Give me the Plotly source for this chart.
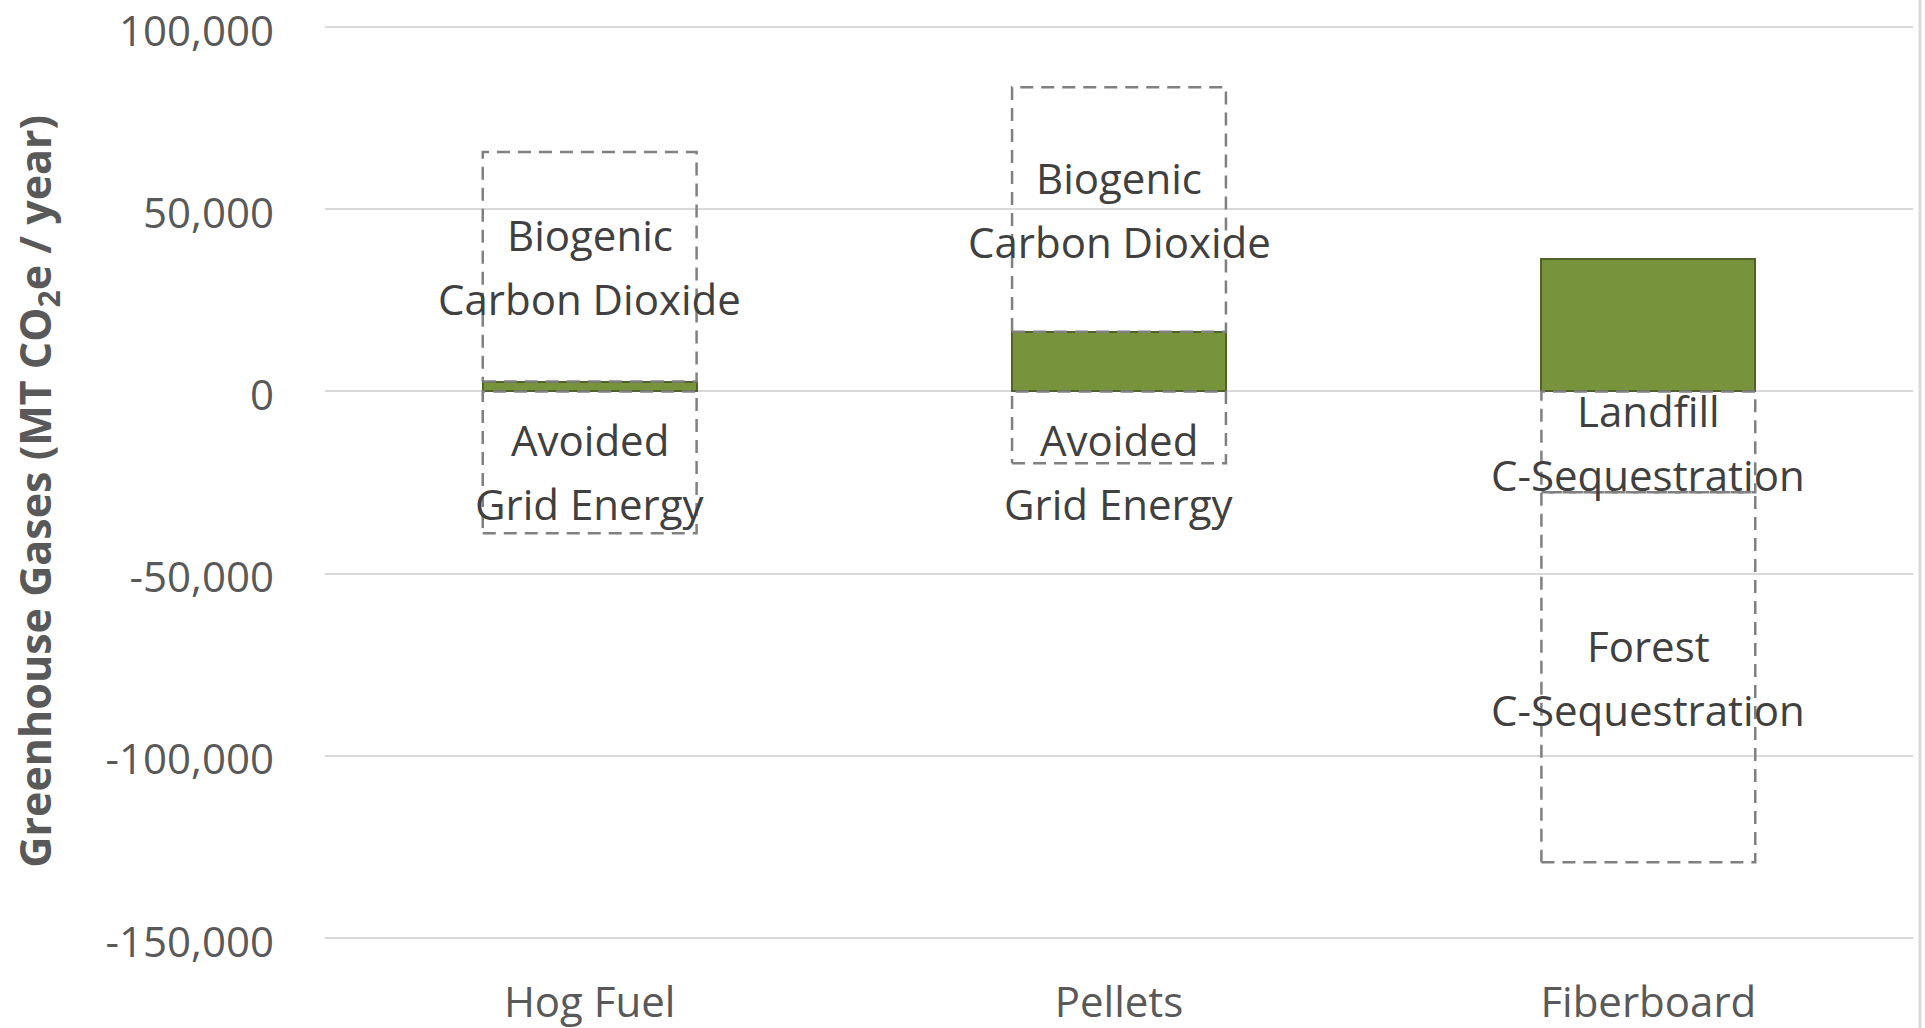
import plotly.graph_objects as go

# ---------------- data ----------------
categories = ["Hog Fuel", "Pellets", "Fiberboard"]
net_emissions = [2700, 16400, 36300]          # green bars (MT CO2e / year)

# dashed component boxes
box_category = [0, 0, 1, 1, 2, 2]
box_bottom = [2700, -38900, 16400, -19700, -27700, -129200]
box_top = [65700, 0, 83500, 0, 0, -27700]
box_labels = [
    ["Biogenic", "Carbon Dioxide"],
    ["Avoided", "Grid Energy"],
    ["Biogenic", "Carbon Dioxide"],
    ["Avoided", "Grid Energy"],
    ["Landfill", "C-Sequestration"],
    ["Forest", "C-Sequestration"],
]
label_y = [34200, -21900, 50000, -21900, -14000, -78500]

y_ticks = [100000, 50000, 0, -50000, -100000, -150000]
y_ticktext = ["100,000", "50,000", "0", "-50,000", "-100,000", "-150,000"]

# ---------------- style ----------------
W, H = 1925, 1028
ML, MR, MT, MB = 325, 12, 26, 89
BAR_W = 0.404
GREEN = "#77933C"
GREEN_EDGE = "#4F6228"
DASH_COLOR = "#808080"
TEXT = "#404040"
TICK = "#595959"
FONT = "Open Sans"

fig = go.Figure()
x_pos = list(range(len(categories)))

fig.add_trace(go.Bar(
    x=x_pos, y=net_emissions, width=BAR_W,
    marker=dict(color=GREEN, line=dict(color=GREEN_EDGE, width=2)),
    showlegend=False, hoverinfo="skip",
))

for c, lo, hi in zip(box_category, box_bottom, box_top):
    x0, x1 = c - BAR_W / 2, c + BAR_W / 2
    fig.add_trace(go.Scatter(
        x=[x0, x1, x1, x0, x0], y=[lo, lo, hi, hi, lo],
        mode="lines",
        line=dict(color=DASH_COLOR, width=2.5, dash="13px,8px"),
        showlegend=False, hoverinfo="skip",
    ))

LINE_H = 64
for c, lines, ly in zip(box_category, box_labels, label_y):
    n = len(lines)
    for k, t in enumerate(lines):
        fig.add_annotation(
            x=c, y=ly, xref="x", yref="y", text=t, showarrow=False,
            yshift=((n - 1) / 2 - k) * LINE_H,
            font=dict(family=FONT, size=42, color=TEXT),
        )

plot_w = W - ML - MR
plot_h = H - MT - MB
fig.add_annotation(
    xref="paper", yref="paper", x=(37 - ML) / plot_w, y=0.49,
    text="Greenhouse Gases (MT CO<sub>2</sub>e / year)",
    textangle=-90, showarrow=False, xanchor="center", yanchor="middle",
    font=dict(family=FONT, size=43, color=TICK, weight="bold"),
)

# chart frame edge on the right
fig.add_shape(
    type="line", xref="paper", yref="paper",
    x0=(1920 - ML) / plot_w, x1=(1920 - ML) / plot_w,
    y0=-MB / plot_h, y1=1 + MT / plot_h,
    line=dict(color="#D9D9D9", width=3),
)

fig.update_layout(
    width=W, height=H,
    margin=dict(l=ML, r=MR, t=MT, b=MB, autoexpand=False),
    plot_bgcolor="white", paper_bgcolor="white",
    font=dict(family=FONT, color=TICK),
    bargap=0,
)
fig.update_xaxes(
    automargin=False,
    range=[-0.5, len(categories) - 0.5],
    tickvals=x_pos, ticktext=categories,
    tickfont=dict(family=FONT, size=42, color=TICK),
    showgrid=False, zeroline=False, showline=False, ticks="",
    ticklabelstandoff=35, ticklabeloverflow="allow",
)
fig.update_yaxes(
    automargin=False,
    range=[-150300, 100300],
    tickvals=y_ticks, ticktext=y_ticktext,
    tickfont=dict(family=FONT, size=42, color=TICK),
    showgrid=True, gridcolor="#D9D9D9", gridwidth=2,
    zeroline=True, zerolinecolor="#D9D9D9", zerolinewidth=2,
    showline=False, ticks="",
    ticklabelstandoff=50, ticklabeloverflow="allow",
    ticklabelshift=4,
)

fig.write_html(
    "out.html",
    config={"displayModeBar": False},
    post_script="document.body.style.margin='0';document.body.style.overflow='hidden';",
)
